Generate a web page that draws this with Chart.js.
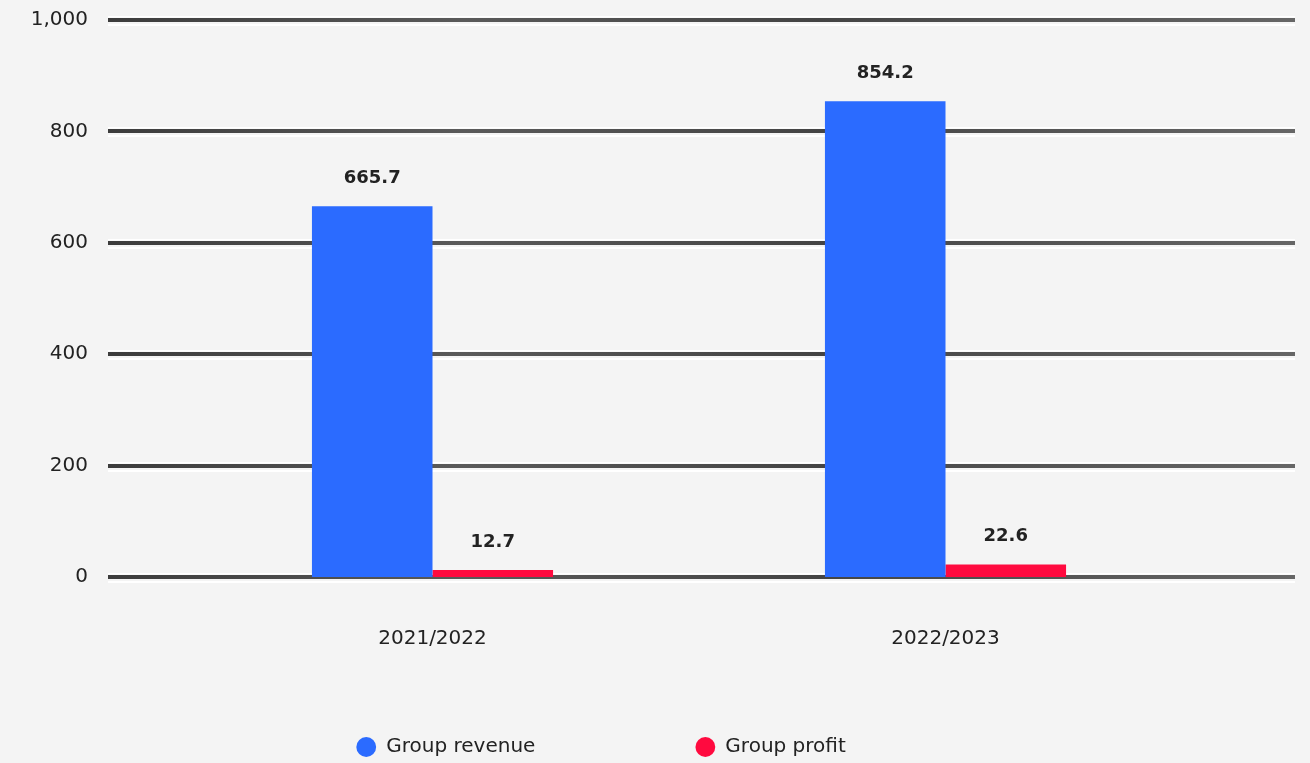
<!DOCTYPE html>
<html>
<head>
<meta charset="utf-8">
<script src="https://cdn.jsdelivr.net/npm/chart.js@4"></script>
<style>
  html, body { margin:0; padding:0; background:#f4f4f4; }
  #wrap { width:1310px; height:763px; position:relative; }
</style>
</head>
<body>
<div id="wrap"><canvas id="c"></canvas></div>
<script>
// data
const years   = ['2021/2022', '2022/2023'];
const revenue = [665.7, 854.2];
const profit  = [12.7, 22.6];
const yTicks  = [0, 200, 400, 600, 800, 1000];

const FONT = "'DejaVu Sans', sans-serif";
const INK = '#222222';

// embossed grid lines (dark stroke + white highlight), drawn behind the bars
const ridges = {
  id:'ridges',
  beforeDatasetsDraw(chart){
    const { ctx, scales:{ y } } = chart;
    const x0 = y.left + 108, x1 = chart.width - 15;
    ctx.save();
    yTicks.forEach(v=>{
      const py = Math.round(y.getPixelForValue(v));
      ctx.fillStyle = '#ffffff';
      ctx.fillRect(x0, py - 4, x1 - x0, 1.5);
      ctx.fillRect(x0, py + 4, x1 - x0, 2);
      const g = ctx.createLinearGradient(x0, 0, x1, 0);
      g.addColorStop(0, '#3c3c3c'); g.addColorStop(.3, '#5a5a5a');
      g.addColorStop(.6, '#444444'); g.addColorStop(1, '#666666');
      ctx.fillStyle = g;
      ctx.fillRect(x0, py - 2, x1 - x0, 4);
    });
    ctx.restore();
  }
};

// value labels above the bars
const valueLabels = {
  id:'valueLabels',
  afterDatasetsDraw(chart){
    const { ctx } = chart;
    ctx.save();
    ctx.font = `bold 18px ${FONT}`;
    ctx.fillStyle = INK;
    ctx.textAlign = 'center';
    ctx.textBaseline = 'middle';
    chart.data.datasets.forEach((ds, i)=>{
      chart.getDatasetMeta(i).data.forEach((bar, j)=>{
        ctx.fillText(ds.data[j].toFixed(1), bar.x, bar.y - 28);
      });
    });
    ctx.restore();
  }
};

const pad = '\u2002'.repeat(15);

new Chart(document.getElementById('c'), {
  type:'bar',
  data:{
    labels: years,
    datasets:[
      { label:'Group revenue', data:revenue, backgroundColor:'#2b6bff', borderWidth:0 },
      { label:'Group profit',  data:profit,  backgroundColor:'#ff0a3f', borderWidth:0 }
    ]
  },
  options:{
    responsive:true,
    maintainAspectRatio:false,
    animation:false,
    layout:{ padding:{ top:20, right:108, left:0, bottom:-4 } },
    datasets:{ bar:{ categoryPercentage:0.47, barPercentage:1.0 } },
    plugins:{
      tooltip:{ enabled:false },
      legend:{
        position:'bottom',
        labels:{
          color:INK, font:{ family:FONT, size:20 },
          usePointStyle:true, pointStyle:'circle', boxWidth:20, boxHeight:14, padding:10,
          generateLabels(chart){
            return Chart.defaults.plugins.legend.labels.generateLabels(chart)
              .map((it, i)=>({ ...it, text: i === 0 ? it.text + pad : it.text, pointStyle:'circle' }));
          }
        }
      }
    },
    scales:{
      x:{
        grid:{ display:false, drawTicks:false }, border:{ display:false },
        ticks:{ color:INK, font:{ family:FONT, size:20 }, padding:50 },
        afterFit(s){ s.height = 150; }
      },
      y:{
        min:0, max:1000,
        grid:{ display:false, drawTicks:false }, border:{ display:false },
        afterBuildTicks(s){ s.ticks = yTicks.map(v=>({ value:v })); },
        ticks:{
          color:INK, font:{ family:FONT, size:20 }, padding:88,
          callback:v=>v.toLocaleString('en-US')
        },
        afterFit(s){ s.width = 176; s.paddingTop = 12; s.paddingBottom = 12; }
      }
    }
  },
  plugins:[ridges, valueLabels]
});
</script>
</body>
</html>
